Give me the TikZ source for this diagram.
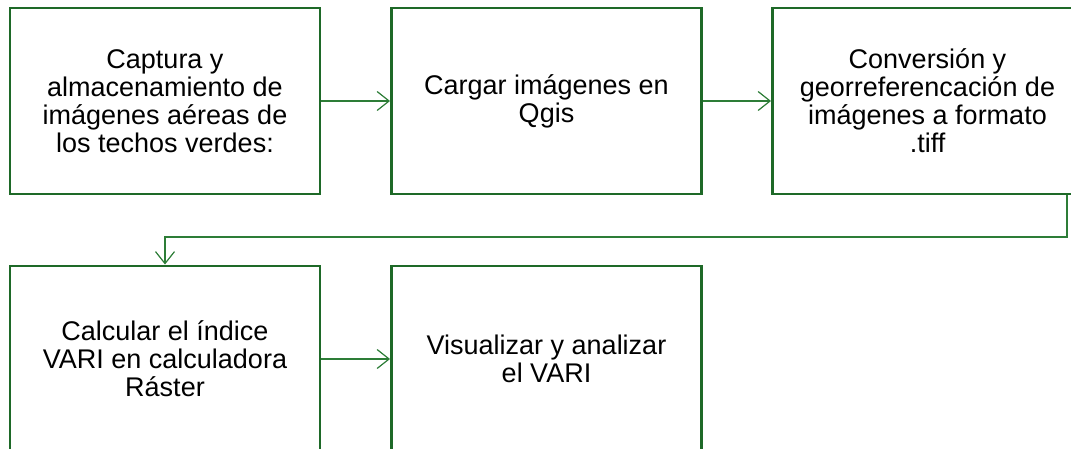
\documentclass[tikz,border=0pt]{standalone}
\usepackage{fontspec}
\setmainfont{Liberation Sans}
\usetikzlibrary{arrows.meta,calc}
\definecolor{boxgreen}{RGB}{30,105,40}
\definecolor{linegreen}{RGB}{45,125,55}
\begin{document}
\begin{tikzpicture}[x=1pt,y=-1pt,
  stepbox/.style={draw=boxgreen,line width=2.9pt,rectangle,minimum width=310pt,minimum height=186pt,inner sep=0pt,align=center,font=\fontsize{27}{28}\selectfont},
  conn/.style={draw=linegreen,line width=1.2pt,-{Straight Barb[length=12pt,width=19pt,line width=1.2pt]}}]
\useasboundingbox (0,0) rectangle (1071,449);
\node[stepbox] (b1) at (165,101) {Captura y\\almacenamiento de\\imágenes aéreas de\\los techos verdes:};
\node[stepbox] (b2) at (546.5,101) {Cargar imágenes en\\Qgis};
\node[stepbox] (b3) at (927.5,101) {Conversión y\\georreferencación de\\imágenes a formato\\.tiff};
\node[stepbox] (b4) at (165,359) {Calcular el índice\\VARI en calculadora\\Ráster};
\node[stepbox] (b5) at (546.5,359) {Visualizar y analizar\\el VARI};
\coordinate (t) at (1067,237);
\draw[conn] (b1.east) -- (b2.west);
\draw[conn] (b2.east) -- (b3.west);
\draw[conn] (b3.south -| t) -- (t) -| (b4.north);
\draw[conn] (b4.east) -- (b5.west);
\end{tikzpicture}
\end{document}
